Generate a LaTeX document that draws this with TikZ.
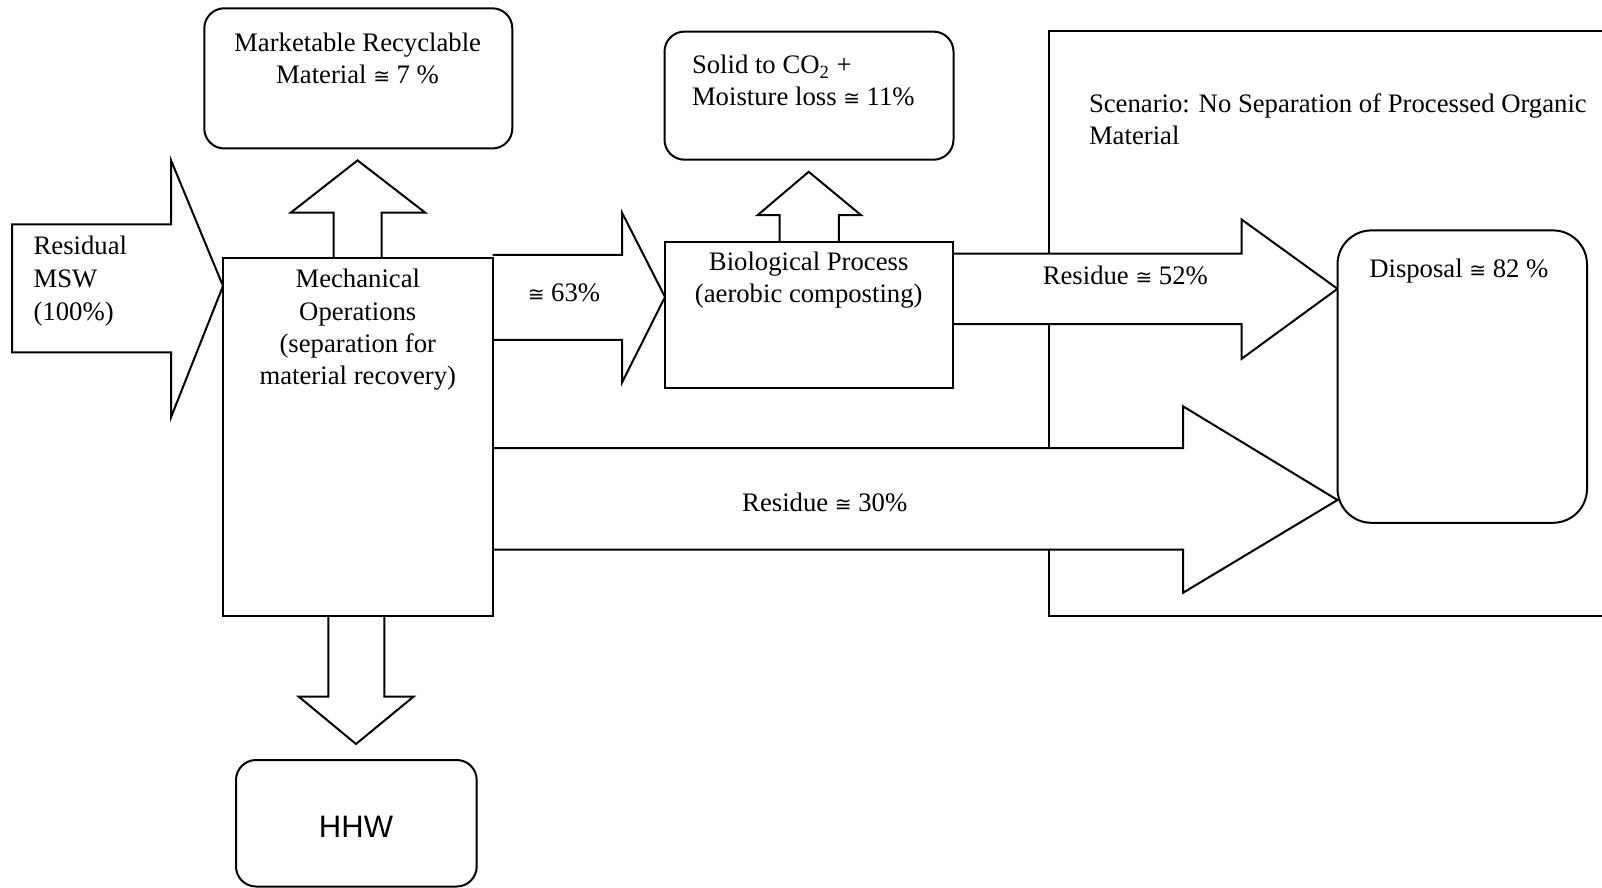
\documentclass[tikz,border=0pt]{standalone}
\usepackage{fontspec}
\setmainfont{Liberation Serif}
\newfontfamily\hhwfont{Liberation Sans}
\newfontfamily\apxfont{DejaVu Sans}
\usetikzlibrary{fit}
\newcommand{\myapx}{{\apxfont\fontsize{10}{10}\selectfont ≅}}
\begin{document}
\begin{tikzpicture}[x=0.5pt,y=-0.5pt,
  line width=1pt,
  box/.style={draw,fill=white,line width=1pt,inner sep=0pt},
  rbox/.style={box,rounded corners=10pt},
  blockarrow/.style={draw,fill=white,line width=1pt,line join=miter},
  txt/.style={inner sep=0pt,font=\fontsize{13.35}{16.1}\selectfont},
  txtL/.style={txt,anchor=base west},
  txtC/.style={txt,anchor=base}]
\useasboundingbox (0,0) rectangle (1602,888);

% scenario frame (open to the right)
\coordinate (scnNW) at (1049.2,30.8);
\coordinate (scnSW) at (1049.2,616);
\draw[line width=1pt] (1602,30.8) -- (scnNW) -- (scnSW) -- (1602,616);

% corner coordinates of the boxes
\coordinate (mechNW) at (223,257.5);   \coordinate (mechSE) at (492.5,616);
\coordinate (bioNW)  at (665,241.7);   \coordinate (bioSE)  at (953.3,388.3);
\coordinate (mktNW)  at (204.3,8.3);   \coordinate (mktSE)  at (512.3,148.5);
\coordinate (solNW)  at (664.5,31.6);  \coordinate (solSE)  at (953.5,159.7);
\coordinate (dspNW)  at (1337.5,230.4);\coordinate (dspSE)  at (1587,522.8);
\coordinate (hhwNW)  at (236,760);     \coordinate (hhwSE)  at (476.7,886.5);

% block arrows
\draw[blockarrow] (12,224.3) -- (171,224.3) -- (171,160.2) -- (223,286) -- (171,417.3) -- (171,352.3) -- (12,352.3) -- cycle;
\draw[blockarrow] (333.5,257.5) -- (333.5,212.5) -- (291,212.5) -- (357.6,160.4) -- (425,212.5) -- (381.5,212.5) -- (381.5,257.5);
\draw[blockarrow] (492.5,254.8) -- (622,254.8) -- (622,212.6) -- (665,297) -- (622,382.6) -- (622,339.8) -- (492.5,339.8);
\draw[blockarrow] (779.5,241.7) -- (779.5,215) -- (757.8,215) -- (808.7,171.8) -- (860.9,215) -- (838.8,215) -- (838.8,241.7);
\draw[blockarrow] (953.3,253.6) -- (1241.6,253.6) -- (1241.6,219.5) -- (1337.5,288.8) -- (1241.6,358.8) -- (1241.6,324) -- (953.3,324);
\draw[blockarrow] (492.5,448.2) -- (1183,448.2) -- (1183,406.3) -- (1337.5,500) -- (1183,592.8) -- (1183,549.5) -- (492.5,549.5);
\draw[blockarrow] (328.3,616) -- (328.3,696.7) -- (298.8,696.7) -- (356,744) -- (413.5,696.7) -- (384.3,696.7) -- (384.3,616);

% boxes
\node[box,fit=(mechNW)(mechSE)] (mech) {};
\node[box,fit=(bioNW)(bioSE)] (bio) {};
\node[rbox,fit=(mktNW)(mktSE)] (mkt) {};
\node[rbox,fit=(solNW)(solSE)] (sol) {};
\node[box,rounded corners=17pt,fit=(dspNW)(dspSE)] (dsp) {};
\node[rbox,fit=(hhwNW)(hhwSE)] (hhwbox) {};

% texts
\node[txtC] (mkt1) at (357.6,51.7) {Marketable Recyclable};
\node[txtC] (mkt2) at (357.6,83.3) {Material \myapx{} 7 \%};
\node[txtL] (sol1) at (691,74) {Solid to CO\textsubscript{2} +};
\node[txtL] (sol2) at (691,106) {Moisture loss \myapx{} 11\%};
\node[txtL] (scn1) at (1088,112.6) {Scenario: No Separation of Processed Organic};
\node[txtL] (scn2) at (1088,144.3) {Material};
\node[txtL] (res1) at (32.6,255) {Residual};
\node[txtL] (res2) at (32.6,287.3) {MSW};
\node[txtL] (res3) at (32.6,320) {(100\%)};
\node[txtC] (mo1) at (357.8,287.7) {Mechanical};
\node[txtC] (mo2) at (357.8,320) {Operations};
\node[txtC] (mo3) at (357.8,352.3) {(separation for};
\node[txtC] (mo4) at (357.8,384.3) {material recovery)};
\node[txtL] (p63) at (526.8,301) {\myapx{} 63\%};
\node[txtC] (bio1) at (808.7,270.8) {Biological Process};
\node[txtC] (bio2) at (808.7,302.4) {(aerobic composting)};
\node[txtL] (r52) at (1041.8,284.6) {Residue \myapx{} 52\%};
\node[txtL] (r30) at (741.2,511) {Residue \myapx{} 30\%};
\node[txtL] (disp) at (1368.3,278) {Disposal \myapx{} 82 \%};
\node[inner sep=0pt,anchor=base,font=\hhwfont\fontsize{15.5}{18}\selectfont] (hhw) at (356,837.3) {HHW};
\end{tikzpicture}
\end{document}
